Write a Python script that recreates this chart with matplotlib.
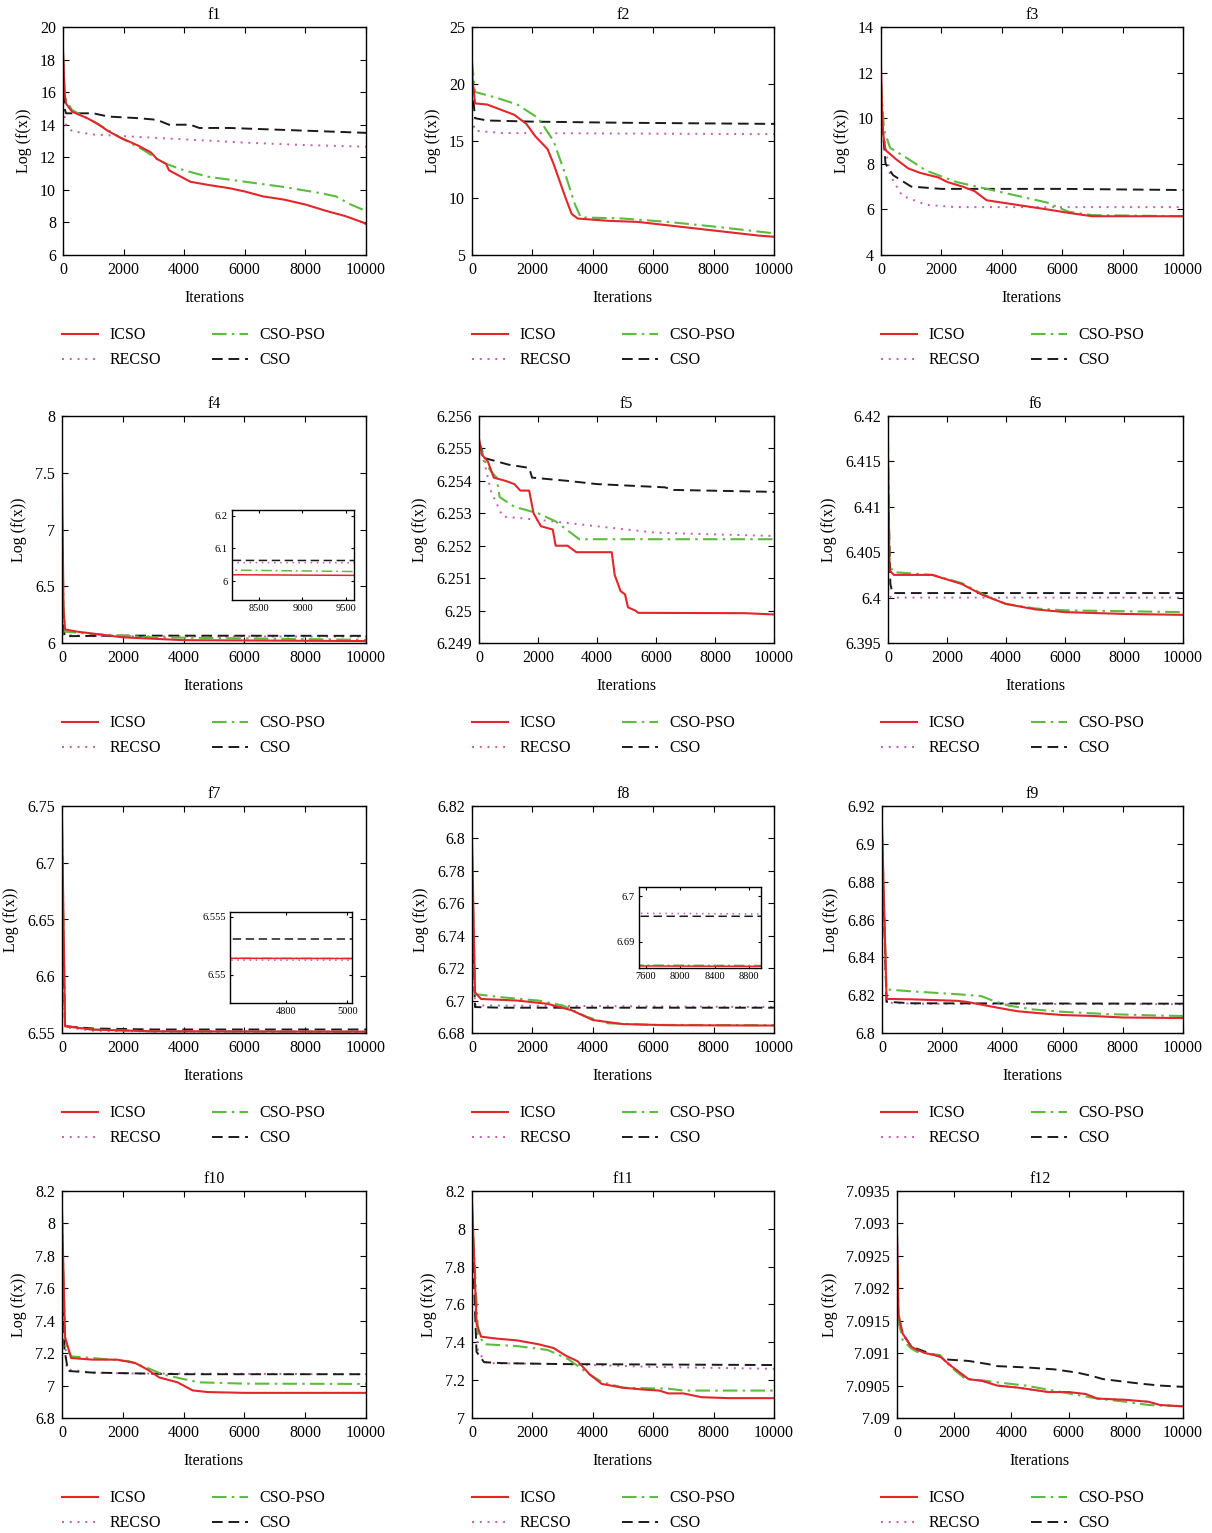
import numpy as np
import matplotlib
matplotlib.use("Agg")
import matplotlib.pyplot as plt
from matplotlib import ticker
from matplotlib.lines import Line2D

plt.rcParams['font.family'] = ['Liberation Serif', 'DejaVu Serif']
plt.rcParams['font.size'] = 11.5

# ---- data: (iterations, log f(x)) ----
F1_ICSO = ([0, 50, 100, 300, 800, 1100, 1500, 1900, 2500, 2900, 3100, 3400, 3500, 3800, 4200, 4800, 5500, 6000, 6600, 7300, 8000, 8700, 9300, 9900, 10000],
           [18.5, 16.0, 15.3, 14.8, 14.4, 14.1, 13.6, 13.2, 12.7, 12.3, 11.9, 11.6, 11.2, 10.9, 10.5, 10.3, 10.1, 9.9, 9.6, 9.4, 9.1, 8.7, 8.4, 8.0, 7.9])
F1_RECSO = ([0, 100, 300, 1000, 2000, 4000, 6000, 8000, 10000],
            [15.0, 14.0, 13.6, 13.4, 13.3, 13.1, 12.9, 12.75, 12.65])
F1_CSOPSO = ([0, 50, 100, 300, 800, 1200, 1800, 2700, 3100, 3400, 4000, 4800, 6000, 7200, 8500, 9000, 9500, 10000],
             [18.5, 16.2, 15.5, 14.9, 14.4, 14.0, 13.3, 12.4, 11.9, 11.6, 11.2, 10.8, 10.5, 10.2, 9.8, 9.6, 9.1, 8.7])
F1_CSO = ([0, 50, 100, 1000, 1500, 2500, 3100, 3500, 4200, 4500, 5500, 7000, 8500, 10000],
          [18.0, 15.0, 14.7, 14.7, 14.5, 14.4, 14.3, 14.0, 14.0, 13.8, 13.8, 13.7, 13.6, 13.5])

F2_ICSO = ([0, 100, 500, 800, 1200, 1400, 1800, 2100, 2500, 2700, 2900, 3100, 3300, 3500, 4500, 5500, 6500, 7500, 8500, 9500, 10000],
           [21.0, 18.3, 18.2, 17.9, 17.5, 17.3, 16.5, 15.4, 14.3, 13.0, 11.5, 10.0, 8.6, 8.2, 8.0, 7.9, 7.6, 7.3, 7.0, 6.7, 6.6])
F2_RECSO = ([0, 100, 1000, 10000], [17.0, 15.9, 15.7, 15.6])
F2_CSOPSO = ([0, 100, 800, 1500, 2200, 2700, 3100, 3400, 3600, 5000, 6500, 8000, 9000, 10000],
             [22.0, 19.3, 18.8, 18.2, 17.0, 15.0, 12.0, 9.5, 8.3, 8.2, 7.9, 7.5, 7.2, 6.9])
F2_CSO = ([0, 100, 500, 2000, 5000, 10000], [20.0, 17.0, 16.8, 16.7, 16.6, 16.5])

F3_ICSO = ([0, 50, 150, 500, 900, 1300, 1900, 2200, 2700, 3100, 3500, 4000, 4500, 5500, 6200, 7000, 10000],
           [12.3, 9.5, 8.6, 8.2, 7.8, 7.6, 7.4, 7.2, 7.0, 6.8, 6.4, 6.3, 6.2, 6.0, 5.85, 5.7, 5.7])
F3_RECSO = ([0, 300, 700, 1500, 2500, 10000], [10.0, 7.5, 6.6, 6.2, 6.1, 6.1])
F3_CSOPSO = ([0, 100, 300, 800, 1500, 2500, 3500, 4500, 5500, 6200, 7000, 10000],
             [11.5, 9.5, 8.7, 8.3, 7.7, 7.2, 6.9, 6.6, 6.3, 5.9, 5.75, 5.7])
F3_CSO = ([0, 150, 400, 1000, 2000, 6000, 10000], [10.5, 8.0, 7.5, 7.0, 6.9, 6.9, 6.85])

F4_ICSO = ([0, 50, 100, 500, 2000, 4000, 10000], [7.5, 6.3, 6.12, 6.1, 6.05, 6.025, 6.017])
F4_RECSO = ([0, 100, 1000, 10000], [6.08, 6.07, 6.06, 6.056])
F4_CSOPSO = ([0, 50, 100, 1000, 3000, 10000], [7.1, 6.3, 6.1, 6.08, 6.05, 6.028])
F4_CSO = ([0, 80, 2000, 10000], [6.6, 6.06, 6.065, 6.063])

F5_ICSO = ([0, 100, 300, 500, 900, 1200, 1400, 1700, 1850, 2100, 2500, 2600, 3000, 3300, 4500, 4600, 4800, 4950, 5050, 5300, 5400, 9000, 10000],
           [6.2553, 6.2548, 6.2546, 6.2541, 6.2540, 6.2539, 6.2537, 6.2537, 6.2530, 6.2526, 6.2525, 6.2520, 6.2520, 6.2518, 6.2518, 6.2511, 6.2506, 6.2505, 6.2501, 6.25, 6.24993, 6.24992, 6.24988])
F5_RECSO = ([0, 200, 400, 800, 2000, 4000, 6000, 10000],
            [6.2551, 6.2545, 6.2537, 6.2529, 6.2528, 6.2526, 6.2524, 6.2523])
F5_CSOPSO = ([0, 200, 400, 600, 700, 1200, 2000, 2600, 3400, 10000],
             [6.2552, 6.2546, 6.2543, 6.2541, 6.2535, 6.2532, 6.2530, 6.25275, 6.2522, 6.2522])
F5_CSO = ([0, 200, 1000, 1700, 1800, 3000, 4000, 6300, 6600, 10000],
          [6.2552, 6.2547, 6.2545, 6.2544, 6.2541, 6.2540, 6.2539, 6.2538, 6.25372, 6.25366])

F6_ICSO = ([0, 50, 200, 1500, 2500, 3200, 4000, 5000, 6000, 7000, 8000, 10000],
           [6.4155, 6.403, 6.4025, 6.4025, 6.4015, 6.4003, 6.3993, 6.3987, 6.3984, 6.3983, 6.3982, 6.3981])
F6_RECSO = ([0, 100, 10000], [6.401, 6.4000, 6.4000])
F6_CSOPSO = ([0, 50, 200, 1500, 2500, 3200, 4000, 5000, 6000, 8000, 10000],
             [6.4175, 6.4035, 6.4028, 6.4025, 6.4016, 6.4004, 6.3993, 6.3988, 6.3986, 6.3985, 6.3984])
F6_CSO = ([0, 80, 150, 10000], [6.413, 6.4015, 6.4005, 6.4005])

F7_ICSO = ([0, 100, 1000, 3000, 10000], [6.74, 6.556, 6.553, 6.5515, 6.5512])
F7_RECSO = ([0, 100, 1000, 3000, 10000], [6.62, 6.555, 6.552, 6.5513, 6.5512])
F7_CSOPSO = ([0, 100, 1000, 3000, 10000], [6.73, 6.556, 6.553, 6.5515, 6.5512])
F7_CSO = ([0, 100, 1000, 3000, 10000], [6.70, 6.556, 6.554, 6.5531, 6.5531])

F8_ICSO = ([0, 100, 300, 1500, 2500, 3300, 4000, 5000, 6500, 10000],
           [6.80, 6.705, 6.701, 6.700, 6.698, 6.694, 6.688, 6.6855, 6.6848, 6.6846])
F8_RECSO = ([0, 100, 10000], [6.75, 6.697, 6.6960])
F8_CSOPSO = ([0, 100, 1000, 2200, 3000, 3800, 4500, 6000, 10000],
             [6.79, 6.704, 6.702, 6.700, 6.697, 6.690, 6.686, 6.6850, 6.6848])
F8_CSO = ([0, 100, 1000, 10000], [6.77, 6.696, 6.6956, 6.6956])

F9_ICSO = ([0, 150, 1000, 2500, 2800, 3300, 3800, 4500, 5200, 6000, 7000, 8000, 10000],
           [6.91, 6.818, 6.8178, 6.817, 6.8165, 6.815, 6.8135, 6.8115, 6.8105, 6.8095, 6.809, 6.8082, 6.8079])
F9_RECSO = ([0, 150, 1000, 10000], [6.90, 6.816, 6.8155, 6.8152])
F9_CSOPSO = ([0, 150, 1000, 2500, 3300, 3700, 4200, 5000, 6000, 7500, 9000, 10000],
             [6.905, 6.823, 6.822, 6.8205, 6.8195, 6.817, 6.8145, 6.8125, 6.8112, 6.810, 6.8093, 6.809])
F9_CSO = ([0, 150, 1000, 10000], [6.90, 6.8165, 6.8157, 6.8155])

F10_ICSO = ([0, 100, 300, 1000, 1800, 2400, 2800, 3200, 3800, 4300, 4800, 6000, 10000],
            [8.08, 7.3, 7.17, 7.16, 7.16, 7.14, 7.10, 7.05, 7.02, 6.97, 6.96, 6.955, 6.955])
F10_RECSO = ([0, 150, 1000, 2000, 10000], [7.8, 7.1, 7.08, 7.075, 7.07])
F10_CSOPSO = ([0, 100, 300, 1000, 2200, 2800, 3300, 4000, 4500, 6000, 10000],
              [8.05, 7.25, 7.18, 7.17, 7.15, 7.11, 7.07, 7.04, 7.02, 7.012, 7.01])
F10_CSO = ([0, 80, 200, 1000, 2500, 4000, 10000], [7.9, 7.22, 7.09, 7.08, 7.075, 7.07, 7.07])

F11_ICSO = ([0, 150, 300, 800, 1500, 2200, 2700, 3100, 3500, 3900, 4300, 5000, 5700, 6200, 6500, 7000, 7600, 8500, 10000],
            [8.15, 7.5, 7.43, 7.42, 7.41, 7.39, 7.37, 7.33, 7.30, 7.23, 7.18, 7.16, 7.15, 7.145, 7.13, 7.13, 7.11, 7.105, 7.105])
F11_RECSO = ([0, 200, 500, 3000, 6000, 10000], [7.9, 7.35, 7.29, 7.285, 7.27, 7.26])
F11_CSOPSO = ([0, 200, 400, 1500, 2500, 3200, 3800, 4300, 5000, 6500, 7000, 10000],
              [8.1, 7.45, 7.39, 7.38, 7.36, 7.31, 7.24, 7.19, 7.16, 7.155, 7.145, 7.145])
F11_CSO = ([0, 150, 400, 1000, 3000, 10000], [8.0, 7.35, 7.295, 7.29, 7.285, 7.28])

F12_ICSO = ([0, 50, 200, 500, 700, 1000, 1500, 1900, 2500, 3000, 3500, 4200, 5300, 6000, 6600, 7000, 8000, 8800, 9200, 10000],
            [7.0929, 7.0916, 7.0913, 7.0911, 7.09105, 7.0910, 7.09095, 7.0908, 7.0906, 7.09057, 7.0905, 7.09047, 7.0904, 7.0904, 7.09037, 7.0903, 7.09028, 7.09025, 7.0902, 7.09018])
F12_RECSO = F12_ICSO
F12_CSOPSO = ([0, 50, 200, 500, 700, 1000, 1500, 1900, 2400, 3000, 3500, 4500, 5500, 6000, 7000, 8000, 8800, 10000],
              [7.0928, 7.0915, 7.0912, 7.09107, 7.09102, 7.0910, 7.09097, 7.09078, 7.0906, 7.09058, 7.09055, 7.0905, 7.09042, 7.09038, 7.0903, 7.09025, 7.0902, 7.09018])
F12_CSO = ([0, 50, 200, 500, 1000, 1800, 2500, 3200, 3500, 4500, 5500, 6300, 6800, 7200, 8500, 9200, 10000],
           [7.0925, 7.0915, 7.0913, 7.0911, 7.09102, 7.0909, 7.09088, 7.09083, 7.0908, 7.09078, 7.09075, 7.0907, 7.09065, 7.0906, 7.09053, 7.0905, 7.09048])

titles = ['f%d' % i for i in range(1, 13)]
ylims = [(6, 20, 2), (5, 25, 5), (4, 14, 2), (6, 8, 0.5), (6.249, 6.256, 0.001), (6.395, 6.42, 0.005),
         (6.55, 6.75, 0.05), (6.68, 6.82, 0.02), (6.8, 6.92, 0.02), (6.8, 8.2, 0.2), (7.0, 8.2, 0.2), (7.09, 7.0935, 0.0005)]
series = [
    (F1_ICSO, F1_RECSO, F1_CSOPSO, F1_CSO), (F2_ICSO, F2_RECSO, F2_CSOPSO, F2_CSO),
    (F3_ICSO, F3_RECSO, F3_CSOPSO, F3_CSO), (F4_ICSO, F4_RECSO, F4_CSOPSO, F4_CSO),
    (F5_ICSO, F5_RECSO, F5_CSOPSO, F5_CSO), (F6_ICSO, F6_RECSO, F6_CSOPSO, F6_CSO),
    (F7_ICSO, F7_RECSO, F7_CSOPSO, F7_CSO), (F8_ICSO, F8_RECSO, F8_CSOPSO, F8_CSO),
    (F9_ICSO, F9_RECSO, F9_CSOPSO, F9_CSO), (F10_ICSO, F10_RECSO, F10_CSOPSO, F10_CSO),
    (F11_ICSO, F11_RECSO, F11_CSOPSO, F11_CSO), (F12_ICSO, F12_RECSO, F12_CSOPSO, F12_CSO),
]
names = ['ICSO', 'RECSO', 'CSO-PSO', 'CSO']
colors = ['#e3262c', '#c45bb5', '#5dbb3f', '#1a1a1a']
styles = ['-', (0, (1, 3)), (0, (7, 2.5, 1.2, 2.5)), (0, (5.5, 3))]
widths = [1.5, 1.4, 1.5, 1.4]
# draw order: RECSO, CSO, CSO-PSO, ICSO on top
order = [1, 3, 2, 0]

# inset zooms: panel index -> (box px, xlim, ylim, xticks, yticks)
insets = {
    3: ((232, 354, 510, 600), (8190, 9592), (5.942, 6.218), [8500, 9000, 9500], [6.0, 6.1, 6.2]),
    6: ((230, 352, 912, 1003), (4620, 5015), (6.5476, 6.5554), [4800, 5000], [6.55, 6.555]),
    7: ((639, 761, 887, 968), (7518, 8940), (6.6843, 6.7020), [7600, 8000, 8400, 8800], [6.69, 6.7]),
}

W, H = 1212, 1533
fig = plt.figure(figsize=(W / 100, H / 100), dpi=100)

col_base = [62, 472, 881]
ax_left = [63, 472, 881, 62, 479, 888, 62, 472, 882, 62, 472, 897]
col_right = [366, 774, 1183]
row_top = [27, 416, 806, 1191]
row_bot = [255, 643, 1033, 1418]

fmt = ticker.FuncFormatter(lambda v, p: '%g' % v)


def px_rect(l, r, t, b):
    return [l / W, 1 - b / H, (r - l) / W, (b - t) / H]


def style_axes(ax, size):
    ax.tick_params(direction='in', top=True, right=True, labelsize=size, length=4, width=0.8, pad=5)
    for s in ax.spines.values():
        s.set_linewidth(1.0)
    ax.yaxis.set_major_formatter(fmt)
    ax.xaxis.set_major_formatter(fmt)


for i in range(12):
    r, c = divmod(i, 3)
    ax = fig.add_axes(px_rect(ax_left[i], col_right[c], row_top[r], row_bot[r]))
    for k in order:
        xs, ys = series[i][k]
        ax.plot(xs, ys, color=colors[k], linestyle=styles[k], lw=widths[k])
    lo, hi, st = ylims[i]
    ax.set_xlim(0, 10000)
    ax.set_ylim(lo, hi)
    ax.set_yticks(np.arange(lo, hi + st / 2, st))
    ax.set_xticks(np.arange(0, 10001, 2000))
    style_axes(ax, 11.5)
    ax.set_title(titles[i], fontsize=11.5, pad=6)
    ax.set_xlabel('Iterations', fontsize=11.5, labelpad=9)
    ax.set_ylabel('Log (f(x))', fontsize=11.5, labelpad=6)

    if i in insets:
        (l, rr, t, b), xl, yl, xt, yt = insets[i]
        ia = fig.add_axes(px_rect(l, rr, t, b))
        for k in order:
            xs, ys = series[i][k]
            ia.plot(xs, ys, color=colors[k], linestyle=styles[k], lw=1.1)
        ia.set_xlim(*xl)
        ia.set_ylim(*yl)
        ia.set_xticks(xt)
        ia.set_yticks(yt)
        style_axes(ia, 7.5)
        ia.tick_params(length=2.5, pad=3)

    # legend under each panel
    handles = [Line2D([], [], color=colors[k], linestyle=styles[k], lw=widths[k]) for k in range(4)]
    fig.legend(handles, names, loc='upper left', ncol=2, frameon=False,
               bbox_to_anchor=((col_base[c] - 6) / W, 1 - (row_bot[r] + 66) / H),
               fontsize=11.5, handlelength=2.25, handletextpad=0.7, columnspacing=3.2,
               labelspacing=0.55, borderaxespad=0)

fig.savefig('out.png', dpi=100)
